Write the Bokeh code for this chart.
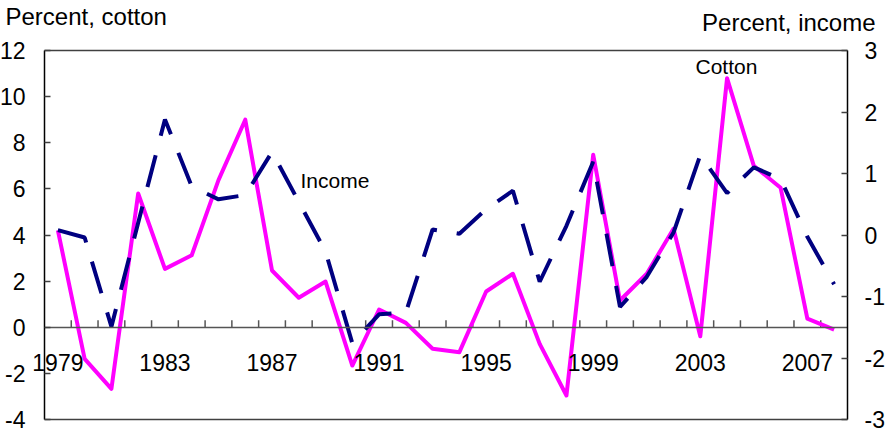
from bokeh.plotting import figure
from bokeh.models import Range1d, LinearAxis, FixedTicker, Label
from bokeh.embed import file_html
from bokeh.resources import INLINE

# ---- data ----
years = list(range(1979, 2009))
cotton = [4.2, -1.37, -2.67, 5.8, 2.53, 3.12, 6.38, 9.0, 2.46, 1.28,
          1.98, -1.66, 0.77, 0.19, -0.93, -1.08, 1.55, 2.32, -0.72, -2.96,
          7.48, 1.16, 2.32, 4.27, -0.39, 10.8, 7.0, 6.05, 0.37, -0.1]
income = [0.08, -0.04, -1.49, 0.2, 1.88, 0.79, 0.58, 0.65, 1.35, 0.54,
          -0.27, -1.76, -1.29, -1.26, 0.09, 0.02, 0.42, 0.72, -0.76, 0.15,
          1.19, -1.17, -0.68, 0.04, 1.3, 0.68, 1.1, 0.91, -0.03, -0.8]
left_ticks = [-4, -2, 0, 2, 4, 6, 8, 10, 12]
right_ticks = [-3, -2, -1, 0, 1, 2, 3]
year_labels = [1979, 1983, 1987, 1991, 1995, 1999, 2003, 2007]

FONT = "Liberation Sans"
W, H = 885, 430
# plot box in page pixels
BL, BR, BT, BB = 44, 847, 50, 419
X0, X1 = years[0] - 0.5, years[-1] + 0.5
Y0, Y1 = -4, 12
R0, R1 = -3, 3

sx = (BR - BL) / (X1 - X0)
sy = (BB - BT) / (Y1 - Y0)
sr = (BB - BT) / (R1 - R0)


def dx(px):
    return X0 + (px - BL) / sx


def dy(py):
    return Y1 - (py - BT) / sy


p = figure(width=W, height=H, output_backend="svg", toolbar_location=None,
           x_range=Range1d(dx(0), dx(W)), y_range=Range1d(dy(H), dy(0)),
           x_axis_type=None, y_axis_type=None,
           min_border_left=0, min_border_right=0, min_border_top=0, min_border_bottom=0)
p.extra_y_ranges = {"income": Range1d(R0 - (H - BB) / sr, R1 + BT / sr)}
p.title.visible = False
p.outline_line_color = None
p.background_fill_color = "white"
p.border_fill_color = "white"


def style_axis(ax, standoff, tick_in):
    ax.major_tick_in = tick_in
    ax.major_tick_out = 0
    ax.minor_tick_line_color = None
    ax.major_tick_line_color = "#404040"
    ax.major_tick_line_width = 1.5
    ax.axis_line_color = "black"
    ax.axis_line_width = 1.5
    ax.major_label_text_font = FONT
    ax.major_label_text_font_size = "23px"
    ax.major_label_text_color = "black"
    ax.major_label_standoff = standoff


yl = LinearAxis(ticker=FixedTicker(ticks=left_ticks), fixed_location=X0, bounds=(Y0, Y1),
                major_label_overrides={t: str(t) for t in left_ticks})
style_axis(yl, 19, 6)
p.add_layout(yl, "left")

yr = LinearAxis(y_range_name="income", ticker=FixedTicker(ticks=right_ticks),
                fixed_location=X1, bounds=(R0, R1),
                major_label_overrides={t: str(t) for t in right_ticks})
style_axis(yr, 17, 6)
p.add_layout(yr, "right")

xa = LinearAxis(ticker=FixedTicker(ticks=year_labels), fixed_location=0, bounds=(X0, X1),
                major_label_overrides={t: str(t) for t in year_labels})
style_axis(xa, 27, 0)
xa.major_tick_line_color = None
xa.axis_line_color = "#555555"
p.add_layout(xa, "below")

# top and bottom edges of the plot box
p.segment(x0=[X0, X0], y0=[Y1, Y0], x1=[X1, X1], y1=[Y1, Y0],
          line_color="#404040", line_width=1.5)

# category separators on the zero axis
bounds = [y + 0.5 for y in years[:-1]]
p.ray(x=bounds, y=[0] * len(bounds), length=7, length_units="screen",
      angle=90, angle_units="deg", line_color="#555555", line_width=1.5)

p.line(years, cotton, line_color="#FF00FF", line_width=4, line_join="round")
p.line(years, income, y_range_name="income", line_color="#000080", line_width=4,
       line_dash="33 20")


def txt(px, py, s, size, align="left"):
    p.add_layout(Label(x=dx(px), y=dy(py), text=s, text_align=align,
                       text_baseline="middle", text_font=FONT, text_font_size=size,
                       text_color="black"))


txt(300, 179.5, "Income", "21px")
txt(695, 65.7, "Cotton", "21px")
txt(5, 16, "Percent, cotton", "24px")
txt(875, 21.7, "Percent, income", "24px", "right")

open("out.html", "w").write(file_html(p, INLINE))
